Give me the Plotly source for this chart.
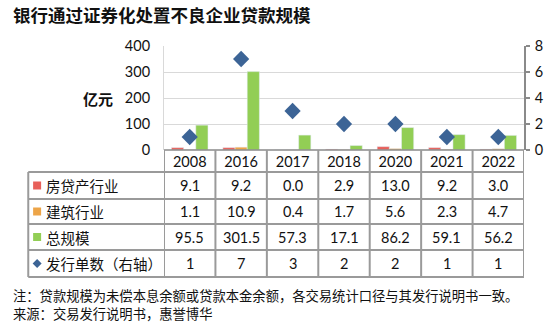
import plotly.graph_objects as go

years = ["2008", "2016", "2017", "2018", "2020", "2021", "2022"]
real_estate = [9.1, 9.2, 0.0, 2.9, 13.0, 9.2, 3.0]
construction = [1.1, 10.9, 0.4, 1.7, 5.6, 2.3, 4.7]
total = [95.5, 301.5, 57.3, 17.1, 86.2, 59.1, 56.2]
deals = [1, 7, 3, 2, 2, 1, 1]

series_names = ["房贷产行业", "建筑行业", "总规模", "发行单数（右轴）"]
colors = ["#E8605A", "#EDA548", "#92CE55", "#3C6496"]

W, H = 555, 331
L, R, T, B = 164, 25, 46, 181
PW = W - L - R
PH = H - T - B

def px_x(px):
    return (px - L) / PW

def px_y(py):
    return (H - B - py) / PH

CJK = "Noto Sans CJK SC"
NUM = "Lato"

idx = list(range(len(years)))

fig = go.Figure()
fig.add_trace(go.Bar(x=idx, y=real_estate, name=series_names[0], marker_color=colors[0]))
fig.add_trace(go.Bar(x=idx, y=construction, name=series_names[1], marker_color=colors[1]))
fig.add_trace(go.Bar(x=idx, y=total, name=series_names[2], marker_color=colors[2]))
fig.add_trace(go.Scatter(x=idx, y=deals, name=series_names[3], yaxis="y2", mode="markers",
                         marker=dict(symbol="diamond", size=12.5, color=colors[3])))

grid = "#D9D9D9"
axis_dark = "#8A8A8A"
table_line = "#9A9A9A"

fig.update_layout(
    width=W, height=H,
    margin=dict(l=L, r=R, t=T, b=B),
    paper_bgcolor="white", plot_bgcolor="white",
    showlegend=False,
    barmode="group", bargap=0.29, bargroupgap=0,
    xaxis=dict(range=[-0.5, len(years) - 0.5], tickvals=idx, ticktext=years,
               showgrid=False, showline=False, zeroline=False,
               ticks="", tickfont=dict(family=NUM, size=14.5, color="#111"),
               ticklabelstandoff=1),
    yaxis=dict(range=[0, 400], dtick=100, showgrid=True, gridcolor=grid, gridwidth=1,
               showline=True, linecolor=grid, linewidth=1, zeroline=False, ticks="",
               ticklabelstandoff=10, tickfont=dict(family=NUM, size=14.5, color="#111")),
    yaxis2=dict(range=[0, 8], dtick=2, overlaying="y", side="right", showgrid=False,
                showline=True, linecolor=axis_dark, linewidth=1.5, zeroline=False,
                ticks="outside", ticklen=4, tickcolor=axis_dark, tickwidth=1.5,
                ticklabelstandoff=2, tickfont=dict(family=NUM, size=14.5, color="#111")),
)

shapes = []
shapes.append(dict(type="line", xref="paper", yref="paper", x0=0, x1=1,
                   y0=0, y1=0, line=dict(color=axis_dark, width=1.5)))
row_lines = [172, 199, 224, 250, 277]
for py in row_lines:
    shapes.append(dict(type="line", xref="paper", yref="paper", x0=px_x(26), x1=1,
                       y0=px_y(py), y1=px_y(py), line=dict(color=table_line, width=2)))
shapes.append(dict(type="line", xref="paper", yref="paper", x0=px_x(26), x1=px_x(26),
                   y0=px_y(172), y1=px_y(277), line=dict(color=table_line, width=2)))
for i in range(len(years) + 1):
    shapes.append(dict(type="line", xref="x", yref="paper", x0=i - 0.5, x1=i - 0.5,
                       y0=0, y1=px_y(277), line=dict(color=table_line, width=2)))

row_centers = [185.5, 211.5, 237, 263.5]
key_x = px_x(35)
for k in range(3):
    shapes.append(dict(type="rect", xref="paper", yref="paper", xsizemode="pixel", ysizemode="pixel",
                       xanchor=key_x, yanchor=px_y(row_centers[k]), x0=-4, x1=4, y0=-4, y1=4,
                       fillcolor=colors[k], line=dict(width=0)))
shapes.append(dict(type="path", xref="paper", yref="paper", xsizemode="pixel", ysizemode="pixel",
                   xanchor=key_x, yanchor=px_y(row_centers[3]),
                   path="M 0,4.5 L 4.5,0 L 0,-4.5 L -4.5,0 Z",
                   fillcolor=colors[3], line=dict(width=0)))
fig.update_layout(shapes=shapes)

annotations = []
table_rows = [real_estate, construction, total, deals]
for r, vals in enumerate(table_rows):
    annotations.append(dict(xref="paper", yref="paper", x=px_x(42), y=px_y(row_centers[r]),
                            xanchor="left", yanchor="middle", showarrow=False, text=series_names[r],
                            font=dict(family=CJK, size=14.5, color="#111")))
    for i, v in enumerate(vals):
        txt = f"{v:.1f}" if r < 3 else f"{v:d}"
        annotations.append(dict(xref="x", yref="paper", x=i, y=px_y(row_centers[r]),
                                xanchor="center", yanchor="middle", showarrow=False, text=txt,
                                font=dict(family=NUM, size=14.5, color="#111")))

annotations.append(dict(xref="paper", yref="paper", x=px_x(8), y=px_y(15), xanchor="left",
                        yanchor="middle", showarrow=False, text="银行通过证券化处置不良企业贷款规模",
                        font=dict(family=CJK, size=17.5, color="#111", weight="bold")))
annotations.append(dict(xref="paper", yref="paper", x=px_x(97), y=px_y(98), xanchor="center",
                        yanchor="middle", showarrow=False, text="亿元",
                        font=dict(family=CJK, size=15, color="#111", weight="bold")))
annotations.append(dict(xref="paper", yref="paper", x=px_x(8), y=px_y(295), xanchor="left",
                        yanchor="middle", showarrow=False,
                        text="注：贷款规模为未偿本息余额或贷款本金余额，各交易统计口径与其发行说明书一致。",
                        font=dict(family=CJK, size=13.3, color="#111")))
annotations.append(dict(xref="paper", yref="paper", x=px_x(8), y=px_y(313), xanchor="left",
                        yanchor="middle", showarrow=False,
                        text="来源：交易发行说明书，惠誉博华",
                        font=dict(family=CJK, size=13.3, color="#111")))
fig.update_layout(annotations=annotations)

fig.write_html("out.html")
